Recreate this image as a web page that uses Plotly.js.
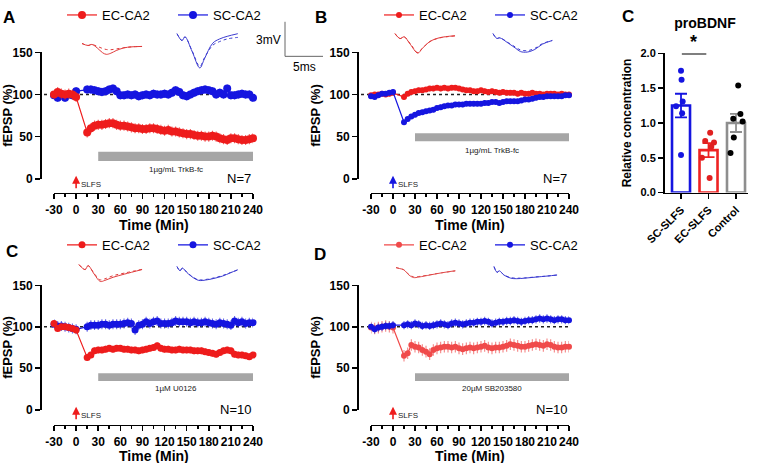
<!DOCTYPE html>
<html><head><meta charset="utf-8">
<script src="https://cdn.plot.ly/plotly-3.0.1.min.js"></script>
<style>html,body{margin:0;padding:0;background:#fff}#chart{width:760px;height:463px}</style>
</head><body><div id="chart"></div>
<script>
// ---------------- DATA ----------------
const timeMin = [-30,-25,-20,-15,-10,-5,0,15,20,25,30,35,40,45,50,55,60,65,70,75,80,85,90,95,100,105,110,115,120,125,130,135,140,145,150,155,160,165,170,175,180,185,190,195,200,205,210,215,220,225,230,235,240];
const timeTicks = [-30,0,30,60,90,120,150,180,210,240];
const fepspTicks = [0,50,100,150];

// Panel A: TrkB-fc
const aEC = [100,103,101,100,101,100,97, 55,60,63,64,64,65,66,66,64,63,63,62,61,60,60,59,59,60,60,59,58,57,58,56,56,55,54,53,53,52,51,51,50,50,51,50,48,47,46,48,48,47,46,46,47,48];
const aSC = [99,96,100,96,100,99,104, 106,106,105,104,103,104,106,107,104,99,99,100,99,100,98,99,100,99,101,100,100,101,100,102,105,103,99,98,100,102,104,105,106,105,104,100,102,100,107,99,99,100,101,100,100,96];
// Panel B: TrkB-fc
const bEC = [99,100,100,101,100,101,102, 97,101,103,104,105,105,106,107,107,108,107,108,107,108,108,107,106,105,105,104,104,105,104,103,104,103,102,103,102,102,102,101,102,101,101,102,101,101,100,101,101,101,100,101,100,100];
const bSC = [98,97,99,101,101,102,103, 67,71,74,76,78,79,80,81,82,84,85,86,87,87,88,88,88,89,89,89,89,89,90,90,91,91,90,91,92,92,92,92,93,94,94,95,96,97,97,98,98,98,98,98,99,99];
// Panel C: U0126
const cEC = [104,98,100,100,99,98,96, 63,66,71,72,72,73,74,73,74,74,73,73,72,72,71,72,73,74,75,77,74,73,73,72,72,73,72,72,72,71,71,71,70,69,68,67,69,71,72,71,67,66,66,65,64,66];
const cSC = [103,101,101,100,99,98,97, 100,102,102,102,103,103,102,103,103,103,104,105,104,96,102,103,106,104,106,107,104,104,104,105,107,106,106,106,105,106,105,105,106,105,104,103,105,104,103,102,107,105,106,104,105,105];
// Panel D: SB203580
const dEC = [99,98,99,100,101,100,99, 65,68,78,76,75,72,70,67,72,74,75,76,76,75,76,74,73,74,75,74,75,76,77,75,74,75,75,76,77,79,78,77,76,76,77,78,79,78,77,79,78,76,75,75,76,76];
const dSC = [100,97,99,100,101,101,102, 102,103,102,104,103,101,102,101,102,103,104,103,102,104,105,104,103,104,105,105,106,106,107,106,104,105,106,106,107,107,108,107,106,107,108,108,109,110,109,110,109,108,109,109,108,108];
// approx. SEM of each series (%)
const semEC = [6, 3, 4, 7];
const semSC = [5, 3, 6, 5];
const drugWindow = [30, 240];
const drugLabels = ['1\u00b5g/mL TrkB-fc', '1\u00b5g/mL TrkB-fc', '1\u00b5M U0126', '20\u00b5M SB203580'];
const nLabels = ['N=7', 'N=7', 'N=10', 'N=10'];
const panelLetters = ['A', 'B', 'C', 'D'];

// proBDNF bar panel
const barCats = ['SC-SLFS', 'EC-SLFS', 'Control'];
const barMeans = [1.25, 0.61, 1.00];
const barSems = [0.17, 0.10, 0.13];
const dotsSC = [1.75, 1.62, 1.31, 1.24, 1.14, 0.54];
const dotsEC = [0.86, 0.74, 0.72, 0.66, 0.50, 0.21];
const dotsCtrl = [1.54, 1.13, 1.06, 1.02, 0.79, 0.57];
const dotJitterSC = [0.0, 0.02, 0.06, -0.18, 0.04, 0.0];
const dotJitterEC = [0.06, -0.12, 0.2, 0.1, -0.24, 0.04];
const dotJitterCtrl = [0.08, 0.16, -0.1, 0.24, -0.08, -0.2];

// example fEPSP waveforms (ms, mV): baseline (solid) and after (dotted)
const wA_EC_t = [0,0.8,1.3,2.0,2.7,3.2,3.8,4.5,5.5,6.5,7.9];
const wA_EC_pre = [-0.28,-0.47,-0.37,-0.7,-1.15,-1.31,-1.2,-0.95,-0.7,-0.6,-0.56];
const wA_EC_post = [-0.28,-0.47,-0.37,-0.55,-0.75,-0.85,-0.87,-0.8,-0.68,-0.6,-0.56];
const wA_SC_t = [0,0.66,1.05,2.0,3.0,3.6,4.7,5.6,6.6,8.0];
const wA_SC_pre = [-0.1,-0.75,-0.4,-1.8,-3.35,-2.5,-1.0,-0.6,-0.35,-0.1];
const wA_SC_post = [-0.1,-0.75,-0.4,-1.75,-3.2,-2.4,-1.2,-0.85,-0.6,-0.45];
const wB_EC_t = [0,0.66,1.2,2.0,3.0,3.6,4.6,5.8,7.9];
const wB_EC_pre = [0,-0.47,-0.3,-1.0,-1.85,-1.4,-0.75,-0.4,-0.2];
const wB_EC_post = [0,-0.47,-0.3,-0.95,-1.8,-1.38,-0.75,-0.42,-0.22];
const wB_SC_t = [0,0.5,0.9,2.0,3.0,3.6,4.5,5.5,6.5,7.8];
const wB_SC_pre = [0,-0.45,-0.4,-0.9,-1.4,-1.7,-1.75,-1.5,-1.0,-0.65];
const wB_SC_post = [0,-0.45,-0.4,-0.85,-1.3,-1.55,-1.62,-1.4,-0.95,-0.65];
const wC_EC_t = [0,0.8,1.2,2.0,2.8,3.4,4.5,6.0,8.3];
const wC_EC_pre = [0,-0.47,-0.1,-0.9,-1.6,-1.5,-1.2,-0.9,-0.47];
const wC_EC_post = [0,-0.47,-0.1,-0.85,-1.45,-1.35,-1.05,-0.8,-0.45];
const wC_SC_t = [0,0.4,0.7,1.5,2.8,4.0,5.0,6.0,7.0,8.0];
const wC_SC_pre = [0,-0.4,-0.15,-0.7,-1.3,-1.25,-1.1,-0.9,-0.6,-0.3];
const wC_SC_post = [0,-0.4,-0.15,-0.68,-1.25,-1.2,-1.05,-0.85,-0.58,-0.32];
const wD_EC_t = [0,0.5,1.0,1.7,2.3,3.0,4.5,6.0,7.8];
const wD_EC_pre = [0,-0.1,-0.2,-0.7,-0.95,-0.9,-0.7,-0.5,-0.3];
const wD_EC_post = [0,-0.1,-0.2,-0.65,-0.88,-0.85,-0.68,-0.5,-0.32];
const wD_SC_t = [0,0.4,0.7,1.3,2.2,3.0,4.0,5.5,7.0,8.3];
const wD_SC_pre = [0,-0.55,-0.4,-0.8,-1.1,-1.15,-1.1,-1.0,-0.9,-0.8];
const wD_SC_post = [0,-0.55,-0.4,-0.78,-1.05,-1.1,-1.08,-0.98,-0.9,-0.8];

// ---------------- LAYOUT HELPERS ----------------
const W = 760, H = 463;
const px = v => v / W;
const py = v => 1 - v / H;
const FONT = 'Liberation Sans, Arial, Helvetica, sans-serif';
const RED = '#ee1c1c', BLUE = '#1515e0', RED_D = '#f04a4a';
const RED_E = 'rgba(238,40,40,0.75)', BLUE_E = 'rgba(40,40,224,0.7)', RED_DE = 'rgba(240,80,80,0.7)';

const panels = [
  {ec: aEC, sc: aSC, xL: 54, xR: 253, yT: 47, yB: 175, axY: 189, axX: 40, ms: 8, ecCol: RED, ecErr: RED_E, arrowCol: RED,
   drugY: [21, 32], drugTextY: 11.5, legY: 9, legX: 62, letter: [9, 12], titleY: 222, ecOnTop: true},
  {ec: bEC, sc: bSC, xL: 371, xR: 569, yT: 47, yB: 175, axY: 189, axX: 357, ms: 6, ecCol: RED, ecErr: RED_E, arrowCol: BLUE,
   drugY: [44.5, 54], drugTextY: 34, legY: 9, legX: 379, letter: [321, 12], titleY: 222, ecOnTop: false},
  {ec: cEC, sc: cSC, xL: 54, xR: 253, yT: 283, yB: 409, axY: 424, axX: 40, ms: 7, ecCol: RED, ecErr: RED_E, arrowCol: RED,
   drugY: [34.5, 44], drugTextY: 25, legY: 242, legX: 62, letter: [12, 249], titleY: 456, ecOnTop: true},
  {ec: dEC, sc: dSC, xL: 371, xR: 569, yT: 283, yB: 409, axY: 424, axX: 357, ms: 6, ecCol: RED_D, ecErr: RED_DE, arrowCol: RED,
   drugY: [34.5, 44], drugTextY: 25, legY: 242, legX: 379, letter: [320, 252], titleY: 456, ecOnTop: false}
];

const traces = [];
const shapes = [];
const annotations = [];
const layout = {
  width: W, height: H, margin: {l: 0, r: 0, t: 0, b: 0},
  paper_bgcolor: '#fff', plot_bgcolor: 'rgba(0,0,0,0)',
  font: {family: FONT, color: '#000'},
  showlegend: true, barmode: 'overlay',
  title: {text: 'proBDNF', x: px(705), y: py(17), xref: 'paper', yref: 'paper', xanchor: 'center', yanchor: 'middle',
          font: {size: 14, weight: 'bold', family: FONT}}
};

panels.forEach((p, i) => {
  const k = i + 1;
  const xa = k === 1 ? 'x' : 'x' + k, ya = k === 1 ? 'y' : 'y' + k;
  const xKey = k === 1 ? 'xaxis' : 'xaxis' + k, yKey = k === 1 ? 'yaxis' : 'yaxis' + k;
  const legKey = k === 1 ? 'legend' : 'legend' + k;
  const pxPerMin = (p.xR - p.xL) / 270;
  const x0px = p.xL + 30 * pxPerMin;
  layout[xKey] = {
    domain: [px(p.xL), px(p.xR)], range: [-30, 240], anchor: 'free', position: py(p.axY),
    showline: true, linewidth: 1.6, linecolor: '#000', ticks: 'outside', ticklen: 5, tickwidth: 1.6, tickcolor: '#000',
    tickmode: 'array', tickvals: timeTicks, ticktext: timeTicks.map(String), tickangle: 0,
    minor: {tickmode: 'linear', tick0: -15, dtick: 30, ticks: 'outside', ticklen: 3, tickwidth: 1.6, tickcolor: '#000'},
    tickfont: {size: 12, weight: 'bold', family: FONT},
    showgrid: false, zeroline: false, automargin: false, fixedrange: true
  };
  layout[yKey] = {
    domain: [py(p.yB), py(p.yT)], range: [0, 150], anchor: 'free', position: px(p.axX),
    showline: true, linewidth: 1.6, linecolor: '#000', ticks: 'outside', ticklen: 5, tickwidth: 1.6, tickcolor: '#000',
    tickmode: 'array', tickvals: fepspTicks, ticktext: fepspTicks.map(String),
    tickfont: {size: 12, weight: 'bold', family: FONT},
    showgrid: false, zeroline: false, automargin: false, fixedrange: true,
    title: {text: 'fEPSP (%)', font: {size: 13, weight: 'bold', family: FONT}, standoff: 4}
  };
  layout[legKey] = {
    orientation: 'h', x: px(p.legX), y: py(p.legY), xanchor: 'left', yanchor: 'middle',
    font: {size: 13, family: FONT}, bgcolor: 'rgba(0,0,0,0)', entrywidth: 66, itemwidth: 30,
    traceorder: 'normal'
  };
  const mk = (name, data, col, ecol, err, rank) => ({
    type: 'scatter', mode: 'lines+markers', x: timeMin, y: data, xaxis: xa, yaxis: ya,
    name: name, legend: legKey, legendrank: rank, showlegend: true, cliponaxis: false,
    line: {color: col, width: 1.2}, marker: {color: col, size: p.ms},
    error_y: {type: 'constant', value: err, color: ecol, thickness: 1.1, width: 0}
  });
  const ecT = mk('EC-CA2', p.ec, p.ecCol, p.ecErr, semEC[i], 1);
  const scT = mk('SC-CA2', p.sc, BLUE, BLUE_E, semSC[i], 2);
  if (p.ecOnTop) { traces.push(scT, ecT); } else { traces.push(ecT, scT); }

  // x-axis title (as annotation so it sits clear of the tick labels)
  annotations.push({xref: 'paper', yref: 'paper', x: px((p.xL + p.xR) / 2), y: py(p.titleY), text: 'Time (Min)',
                    showarrow: false, xanchor: 'center', yanchor: 'middle', font: {size: 14, weight: 'bold', family: FONT}});
  // baseline dotted line at 100 %
  shapes.push({type: 'line', xref: 'paper', yref: ya, x0: px(p.axX + 4), x1: px(p.xR), y0: 100, y1: 100,
               line: {color: '#222', width: 1.5, dash: 'dot'}, layer: 'below'});
  // drug application bar
  shapes.push({type: 'rect', xref: xa, yref: ya, x0: drugWindow[0], x1: drugWindow[1], y0: p.drugY[0], y1: p.drugY[1],
               fillcolor: '#a6a6a6', line: {width: 0}});
  annotations.push({xref: xa, yref: ya, x: (drugWindow[0] + drugWindow[1]) / 2, y: p.drugTextY, text: drugLabels[i],
                    showarrow: false, font: {size: 8, family: FONT, color: '#222'}});
  // SLFS arrow (paper coordinates, below the baseline)
  annotations.push({xref: 'paper', yref: 'paper', x: px(x0px), y: py(p.yB - 3), ax: 0, ay: 14, text: '', showarrow: true,
                    arrowhead: 2, arrowsize: 1, arrowwidth: 1.6, arrowcolor: p.arrowCol});
  annotations.push({xref: 'paper', yref: 'paper', x: px(x0px + 3), y: py(p.yB + 6), text: 'SLFS', showarrow: false,
                    xanchor: 'left', yanchor: 'middle', font: {size: 8, family: FONT, color: '#222'}});
  annotations.push({xref: xa, yref: ya, x: 240, y: 0, text: nLabels[i], showarrow: false, xanchor: 'right', yanchor: 'middle',
                    font: {size: 13, family: FONT}});
  annotations.push({xref: 'paper', yref: 'paper', x: px(p.letter[0]), y: py(p.letter[1]), text: panelLetters[i],
                    showarrow: false, xanchor: 'center', yanchor: 'middle', font: {size: 17, weight: 'bold', family: FONT}});
});

// ---------------- INSET WAVEFORMS ----------------
const PX_PER_MS = 7.6, PX_PER_MV = 10.67;
const insets = [
  {t: wA_EC_t, pre: wA_EC_pre, post: wA_EC_post, left: 82, top: 35, col: '#e03a3a'},
  {t: wA_SC_t, pre: wA_SC_pre, post: wA_SC_post, left: 177, top: 27, col: '#3c3cd0'},
  {t: wB_EC_t, pre: wB_EC_pre, post: wB_EC_post, left: 395, top: 28, col: '#e03a3a'},
  {t: wB_SC_t, pre: wB_SC_pre, post: wB_SC_post, left: 493, top: 28, col: '#3c3cd0'},
  {t: wC_EC_t, pre: wC_EC_pre, post: wC_EC_post, left: 79, top: 262, col: '#e03a3a'},
  {t: wC_SC_t, pre: wC_SC_pre, post: wC_SC_post, left: 177, top: 264, col: '#3c3cd0'},
  {t: wD_EC_t, pre: wD_EC_pre, post: wD_EC_post, left: 396, top: 265, col: '#e04a4a'},
  {t: wD_SC_t, pre: wD_SC_pre, post: wD_SC_post, left: 494, top: 264, col: '#3c3cd0'}
];
insets.forEach((s, j) => {
  const k = 6 + j;
  const boxW = 72, boxH = 44, pad = 4;
  layout['xaxis' + k] = {domain: [px(s.left - pad), px(s.left - pad + boxW)], range: [-pad / PX_PER_MS, (boxW - pad) / PX_PER_MS],
                          visible: false, anchor: 'y' + k, fixedrange: true};
  layout['yaxis' + k] = {domain: [py(s.top - pad + boxH), py(s.top - pad)], range: [-(boxH - pad) / PX_PER_MV, pad / PX_PER_MV],
                          visible: false, anchor: 'x' + k, fixedrange: true};
  traces.push({type: 'scatter', mode: 'lines', x: s.t, y: s.post, xaxis: 'x' + k, yaxis: 'y' + k, showlegend: false,
               line: {color: s.col, width: 1, dash: 'dot', shape: 'spline'}, hoverinfo: 'skip'});
  traces.push({type: 'scatter', mode: 'lines', x: s.t, y: s.pre, xaxis: 'x' + k, yaxis: 'y' + k, showlegend: false,
               line: {color: s.col, width: 1, shape: 'spline'}, hoverinfo: 'skip'});
});

// scale bar 3 mV / 5 ms
shapes.push({type: 'line', xref: 'paper', yref: 'paper', x0: px(285), x1: px(285), y0: py(16), y1: py(51), line: {color: '#666', width: 1}});
shapes.push({type: 'line', xref: 'paper', yref: 'paper', x0: px(285), x1: px(323), y0: py(51), y1: py(51), line: {color: '#666', width: 1}});
annotations.push({xref: 'paper', yref: 'paper', x: px(283), y: py(34), text: '3mV', showarrow: false, xanchor: 'right', yanchor: 'middle',
                  font: {size: 12, family: FONT}});
annotations.push({xref: 'paper', yref: 'paper', x: px(304), y: py(62), text: '5ms', showarrow: false, xanchor: 'center', yanchor: 'middle',
                  font: {size: 12, family: FONT}});

// ---------------- BAR PANEL ----------------
const barCols = [BLUE, '#ee2222', '#8e8e8e'];
const dotCols = [BLUE, '#e02020', '#000'];
const dotSets = [dotsSC, dotsEC, dotsCtrl];
const jitSets = [dotJitterSC, dotJitterEC, dotJitterCtrl];
layout.xaxis5 = {
  domain: [px(663), px(748)], range: [-0.655, 2.436], anchor: 'free', position: py(189),
  showline: true, linewidth: 1.6, linecolor: '#000', ticks: 'outside', ticklen: 5, tickwidth: 1.6, tickcolor: '#000',
  tickmode: 'array', tickvals: [0, 1, 2], ticktext: barCats, tickangle: -45,
  tickfont: {size: 11, weight: 'bold', family: FONT}, showgrid: false, zeroline: false, automargin: false, fixedrange: true
};
layout.yaxis5 = {
  domain: [py(189), py(48)], range: [0, 2], anchor: 'free', position: px(663),
  showline: true, linewidth: 1.6, linecolor: '#000', ticks: 'outside', ticklen: 5, tickwidth: 1.6, tickcolor: '#000',
  tickmode: 'array', tickvals: [0, 0.5, 1, 1.5, 2], ticktext: ['0.0', '0.5', '1.0', '1.5', '2.0'],
  tickfont: {size: 11, weight: 'bold', family: FONT}, showgrid: false, zeroline: false, automargin: false, fixedrange: true,
  title: {text: 'Relative concentration', font: {size: 12, weight: 'bold', family: FONT}, standoff: 4}
};
barCats.forEach((c, i) => {
  traces.push({type: 'bar', x: [i], y: [barMeans[i]], width: 0.655, xaxis: 'x5', yaxis: 'y5', showlegend: false,
               marker: {color: 'rgba(255,255,255,0)', line: {color: barCols[i], width: 2.6}},
               error_y: {type: 'data', array: [barSems[i]], color: barCols[i], thickness: 1.8, width: 6}});
  traces.push({type: 'scatter', mode: 'markers', x: dotSets[i].map((v, j) => i + jitSets[i][j]), y: dotSets[i],
               xaxis: 'x5', yaxis: 'y5', showlegend: false, cliponaxis: false,
               marker: {color: dotCols[i], size: 6}});
});
shapes.push({type: 'line', xref: 'x5', yref: 'y5', x0: 0.03, x1: 0.92, y0: 2.0, y1: 2.0, line: {color: '#000', width: 2}});
annotations.push({xref: 'x5', yref: 'y5', x: 0.47, y: 2.0, yshift: 11, text: '*', showarrow: false,
                  font: {size: 18, weight: 'bold', family: FONT}});
annotations.push({xref: 'paper', yref: 'paper', x: px(628), y: py(11), text: 'C', showarrow: false,
                  xanchor: 'center', yanchor: 'middle', font: {size: 17, weight: 'bold', family: FONT}});

layout.shapes = shapes;
layout.annotations = annotations;
Plotly.newPlot('chart', traces, layout, {staticPlot: true, displayModeBar: false});
</script>
</body></html>
